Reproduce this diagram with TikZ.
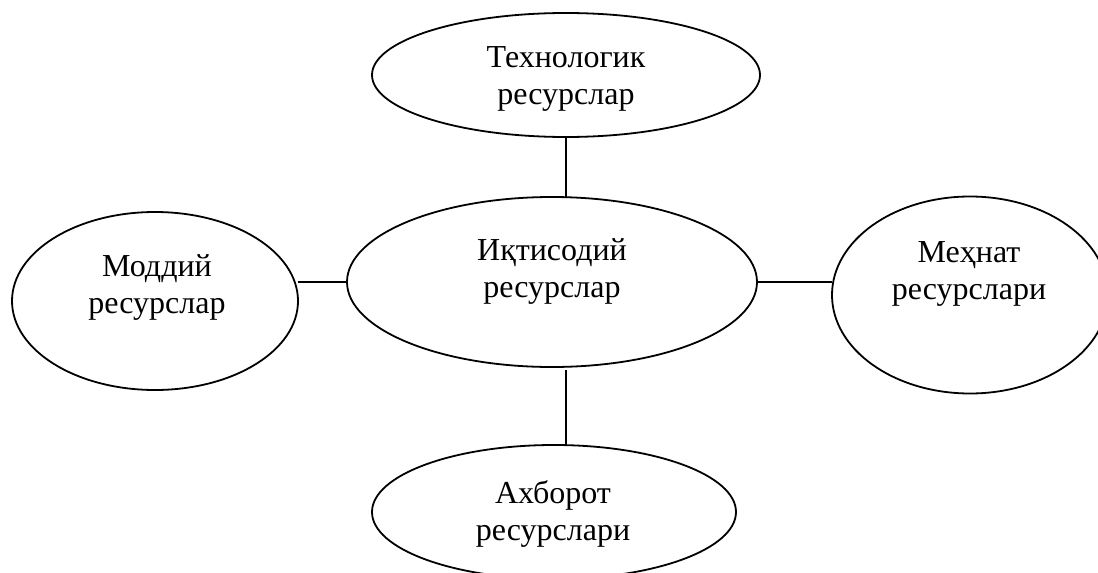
\documentclass[tikz,border=0pt]{standalone}
\usepackage{fontspec}
\setmainfont{Liberation Serif}
\usetikzlibrary{shapes.geometric}
\tikzset{
  res/.style={ellipse, draw, line width=0.9pt, inner sep=0pt, outer sep=0pt},
  lbl/.style={align=center, inner sep=0pt, font=\fontsize{16}{18.5}\selectfont},
  link/.style={line width=0.9pt},
}
\begin{document}
\begin{tikzpicture}[x=0.5pt,y=-0.5pt]
	\useasboundingbox (0,0) rectangle (1098,573);
	% ellipses
	\node[res, minimum width=194pt, minimum height=62pt] (tech) at (566,75) {};
	\node[res, minimum width=205pt, minimum height=85pt] (econ) at (552,282) {};
	\node[res, minimum width=143pt, minimum height=89pt] (mat) at (155,301) {};
	\node[res, minimum width=138pt, minimum height=98.5pt] (lab) at (970,295) {};
	\node[res, minimum width=182pt, minimum height=67pt] (info) at (554,512) {};
	% texts
	\node[lbl] (tech-t) at (566,79) {Технологик\\ресурслар};
	\node[lbl] (econ-t) at (552,271) {Иқтисодий\\ресурслар};
	\node[lbl] (mat-t) at (157,287) {Моддий\\ресурслар};
	\node[lbl] (lab-t) at (969,274) {Меҳнат\\ресурслари};
	\node[lbl] (info-t) at (553,514) {Ахборот\\ресурслари};
	% links
	\draw[link] (tech.south) -- (tech.south |- econ.north);
	\draw[link] (econ.west) -- (mat.east |- econ.west);
	\draw[link] (econ.east) -- (econ.east -| lab.west);
	\draw[link] ([yshift=-1.5pt]tech.south |- econ.south) -- (tech.south |- info.north);
\end{tikzpicture}
\end{document}
